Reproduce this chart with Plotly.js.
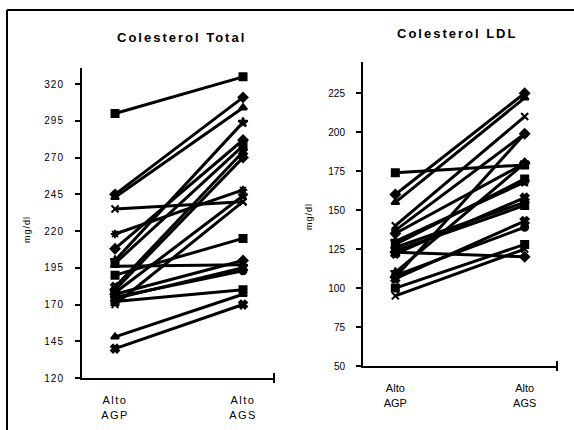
<!DOCTYPE html>
<html>
<head>
<meta charset="utf-8">
<script src="https://cdn.plot.ly/plotly-3.0.1.min.js"></script>
<style>
html,body{margin:0;padding:0;background:#fff;}
#chart{width:574px;height:430px;}
.annotation-text{letter-spacing:1px;}
.annotation[data-index="0"] .annotation-text,
.annotation[data-index="1"] .annotation-text{letter-spacing:2px;}
.xtick text{letter-spacing:1.5px;}
.ytick text{letter-spacing:1px;}
</style>
</head>
<body>
<div id="chart"></div>
<script>
// Categories
const categories = ["Alto<br>AGP", "Alto<br>AGS"];

// Colesterol Total (mg/dl): [AGP, AGS] per subject
const totalAGP = [300, 245, 243, 235, 218, 208, 200, 198, 196, 190, 182, 180, 178, 177, 175, 174, 172, 170, 148, 140];
const totalAGS = [325, 311, 304, 240, 248, 282, 294, 278, 197, 215, 274, 270, 244, 200, 193, 195, 180, 240, 177, 170];

// Colesterol LDL (mg/dl): [AGP, AGS] per subject
const ldlAGP = [174, 160, 155, 140, 137, 135, 130, 128, 126, 124, 122, 123, 110, 107, 108, 106, 100, 95];
const ldlAGS = [179, 225, 222, 210, 199, 180, 168, 170, 155, 153, 158, 120, 180, 199, 139, 143, 128, 125];

// Tick labels
const totalTicks = [120, 145, 170, 195, 220, 245, 270, 295, 320];
const ldlTicks = [50, 75, 100, 125, 150, 175, 200, 225];

const symbols = ["square", "diamond", "triangle-up", "x-thin-open", "asterisk-open", "diamond", "star", "square", "line-ew-open", "square", "x", "diamond", "star", "diamond", "circle", "x", "square", "x-thin-open", "triangle-up", "x"];

const traces = [];
const pos = [0, 1];
totalAGP.forEach((v, i) => {
  traces.push({
    x: pos, y: [v, totalAGS[i]], xaxis: "x", yaxis: "y",
    mode: "lines+markers", type: "scatter", showlegend: false,
    line: {color: "#000", width: 3},
    marker: {symbol: symbols[i % symbols.length], size: 7, color: "#000", line: {color: "#000", width: 2}}
  });
});
ldlAGP.forEach((v, i) => {
  traces.push({
    x: pos, y: [v, ldlAGS[i]], xaxis: "x2", yaxis: "y2",
    mode: "lines+markers", type: "scatter", showlegend: false,
    line: {color: "#000", width: 3},
    marker: {symbol: symbols[i % symbols.length], size: 7, color: "#000", line: {color: "#000", width: 2}}
  });
});

const tickFont = {family: "Liberation Sans, Arial, sans-serif", size: 10, color: "#000"};
const catFont = {family: "Liberation Sans, Arial, sans-serif", size: 11, color: "#000"};

const yCommon = {
  showgrid: false, zeroline: false, showline: true, linecolor: "#000", linewidth: 2,
  ticks: "outside", ticklen: 5, tickwidth: 2, tickcolor: "#000", tickfont: tickFont, ticklabelstandoff: 9
};
const xCommon = {
  showgrid: false, zeroline: false, showline: true, linecolor: "#000", linewidth: 2,
  ticks: "", tickmode: "array", tickvals: pos, ticktext: categories, tickfont: catFont, ticklabelstandoff: 11
};

const layout = {
  width: 574, height: 430,
  margin: {l: 0, r: 0, t: 0, b: 0},
  paper_bgcolor: "#fff", plot_bgcolor: "#fff",
  showlegend: false,
  xaxis: Object.assign({}, xCommon, {domain: [82/574, 274/574], range: [-0.258, 1.242], anchor: "y"}),
  yaxis: Object.assign({}, yCommon, {domain: [1 - 378/430, 1 - 68/430], range: [120, 331], tickvals: totalTicks, anchor: "x"}),
  xaxis2: Object.assign({}, xCommon, {domain: [363/574, 557/574], range: [-0.25, 1.25], anchor: "y2"}),
  yaxis2: Object.assign({}, yCommon, {domain: [1 - 366/430, 1 - 62/430], range: [50, 245], tickvals: ldlTicks, anchor: "x2"}),
  annotations: [
    {text: "<b>Colesterol Total</b>", xref: "paper", yref: "paper", x: 181/574, y: 1 - 38/430, showarrow: false,
     font: {family: "Liberation Sans, Arial, sans-serif", size: 13, color: "#000"}, xanchor: "center", yanchor: "middle"},
    {text: "<b>Colesterol LDL</b>", xref: "paper", yref: "paper", x: 457/574, y: 1 - 33/430, showarrow: false,
     font: {family: "Liberation Sans, Arial, sans-serif", size: 13, color: "#000"}, xanchor: "center", yanchor: "middle"},
    {text: "mg/dl", xref: "paper", yref: "paper", x: 27/574, y: 1 - 230/430, showarrow: false, textangle: -90,
     font: {family: "Liberation Sans, Arial, sans-serif", size: 9, color: "#000"}, xanchor: "center", yanchor: "middle"},
    {text: "mg/dl", xref: "paper", yref: "paper", x: 309/574, y: 1 - 217/430, showarrow: false, textangle: -90,
     font: {family: "Liberation Sans, Arial, sans-serif", size: 9, color: "#000"}, xanchor: "center", yanchor: "middle"}
  ],
  shapes: [
    // outer frame (top and left)
    {type: "line", xref: "paper", yref: "paper", x0: 7/574, x1: 1, y0: 1 - 10/430, y1: 1 - 10/430, line: {color: "#000", width: 2}},
    {type: "line", xref: "paper", yref: "paper", x0: 7/574, x1: 7/574, y0: 0, y1: 1 - 10/430, line: {color: "#000", width: 2}},
    // x-axis end ticks
    {type: "line", xref: "x domain", yref: "y domain", x0: 1, x1: 1, ysizemode: "pixel", yanchor: 0, y0: -5, y1: 5, line: {color: "#000", width: 2}},
    {type: "line", xref: "x2 domain", yref: "y2 domain", x0: 1, x1: 1, ysizemode: "pixel", yanchor: 0, y0: -5, y1: 5, line: {color: "#000", width: 2}}
  ]
};

Plotly.newPlot("chart", traces, layout, {staticPlot: true, displayModeBar: false});
</script>
</body>
</html>
